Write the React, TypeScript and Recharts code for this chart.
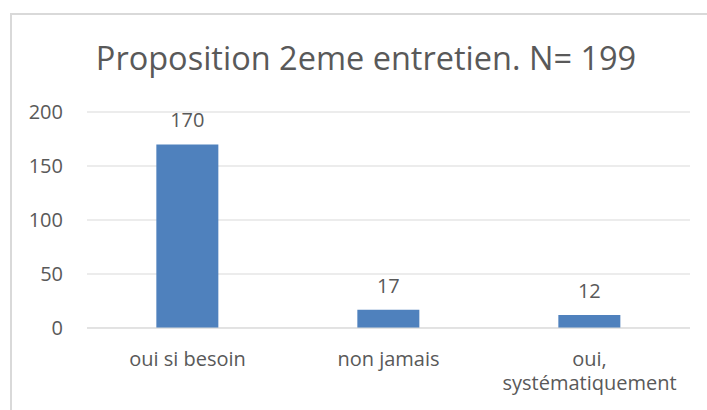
import { BarChart, Bar, XAxis, YAxis, CartesianGrid, LabelList } from 'recharts'

const categories = ['oui si besoin', 'non jamais', 'oui, systématiquement']
const counts = [170, 17, 12]
const yTicks = [0, 50, 100, 150, 200]

const chartData = categories.map((name, i) => ({ name, count: counts[i] }))

const FONT = '"Open Sans", "Noto Sans", sans-serif'
const TEXT_COLOR = '#595959'

// greedy word wrap, roughly like Excel does it for narrow categories
function wrapLabel(label: string, maxChars: number) {
  const lines: string[] = []
  let cur = ''
  label.split(' ').forEach((w) => {
    const next = cur ? cur + ' ' + w : w
    if (cur && next.length > maxChars) {
      lines.push(cur)
      cur = w
    } else {
      cur = next
    }
  })
  if (cur) lines.push(cur)
  return lines
}

function CategoryTick(props: any) {
  const { x, y, payload } = props
  const lines = wrapLabel(String(payload.value), 14)
  return (
    <text x={x} y={y} textAnchor="middle" fill={TEXT_COLOR} fontSize={20} fontFamily={FONT}>
      {lines.map((line, i) => (
        <tspan key={i} x={x} dy={i === 0 ? '0.71em' : 24}>
          {line}
        </tspan>
      ))}
    </text>
  )
}

export default function App() {
  return (
    <div style={{ position: 'absolute', left: 0, top: 0, width: 707, height: 410, overflow: 'hidden', background: '#fff' }}>
      <div
        style={{
          position: 'absolute',
          left: 10,
          top: 13,
          width: 740,
          height: 440,
          border: '2px solid #d9d9d9',
        }}
      />
      <div
        style={{
          position: 'absolute',
          left: 0,
          width: 732,
          top: 37,
          textAlign: 'center',
          fontFamily: FONT,
          fontSize: 32.5,
          color: TEXT_COLOR,
          lineHeight: '42px',
        }}
      >
        Proposition 2eme entretien. N= 199
      </div>
      <div style={{ position: 'absolute', left: 0, top: 0 }}>
        <BarChart
          width={707}
          height={410}
          data={chartData}
          margin={{ top: 112, right: 17, bottom: 22, left: 17 }}
          barCategoryGap="34.5%"
        >
          <CartesianGrid vertical={false} stroke="#d9d9d9" strokeWidth={1} />
          <XAxis
            dataKey="name"
            height={60}
            axisLine={{ stroke: '#d9d9d9' }}
            tickLine={false}
            tickSize={0}
            tickMargin={24}
            interval={0}
            tick={<CategoryTick />}
          />
          <YAxis
            width={70}
            domain={[0, 200]}
            ticks={yTicks}
            axisLine={false}
            tickLine={false}
            tickSize={0}
            tickMargin={24}
            tick={{ fill: TEXT_COLOR, fontSize: 20, fontFamily: FONT }}
          />
          <Bar dataKey="count" fill="#4f81bd" isAnimationActive={false}>
            <LabelList
              dataKey="count"
              position="top"
              offset={17}
              fill={TEXT_COLOR}
              fontSize={20}
              fontFamily={FONT}
            />
          </Bar>
        </BarChart>
      </div>
    </div>
  )
}
